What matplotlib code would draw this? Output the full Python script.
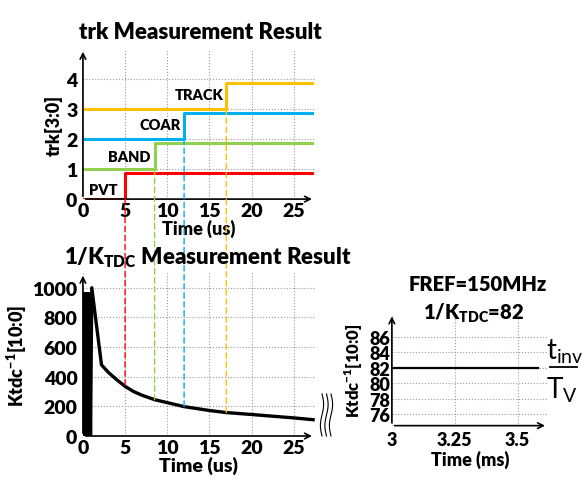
import numpy as np
import matplotlib.pyplot as plt
from matplotlib.patches import ConnectionPatch
from matplotlib.lines import Line2D

W = 'heavy'
plt.rcParams['font.family'] = ['Lato', 'DejaVu Sans']
plt.rcParams['font.weight'] = W
plt.rcParams['mathtext.fontset'] = 'custom'
plt.rcParams['mathtext.rm'] = 'Lato:heavy'
plt.rcParams['mathtext.bf'] = 'Lato:heavy'
plt.rcParams['mathtext.sf'] = 'Lato:normal'

# trk[3:0] step traces
stages = ['PVT', 'BAND', 'COAR', 'TRACK']
stage_colors = ['#ff0000', '#92d050', '#00b0f0', '#ffc000']
switch_t = [5, 8.5, 12, 17]
low_lvl = [0, 1, 2, 3]
high_lvl = [0.88, 1.88, 2.88, 3.88]
t_end = 27.2
label_xy = [(2.4, 0.33), (5.5, 1.43), (9.1, 2.47), (13.8, 3.47)]

# 1/K_TDC measurement (us, code)
ktdc_t = [0.0, 0.04, 0.08, 0.12, 0.16, 0.2, 0.24, 0.28, 0.32, 0.36, 0.4,
          0.44, 0.48, 0.52, 0.56, 0.6, 0.64, 0.68, 0.72, 0.76, 0.8, 0.9,
          1.05, 2.2, 3, 4, 5, 6, 7, 8.5, 10, 12, 15, 17, 20, 25, 27.3]
ktdc_v = [700, 960, 0, 960, 100, 960, 0, 960, 300, 960, 0,
          960, 50, 960, 0, 960, 200, 960, 0, 960, 960, 0,
          1000, 480, 430, 380, 335, 300, 275, 245, 225, 198, 172, 158, 145, 122, 110]

# zoomed steady state (ms, code)
ss_t = [3.0, 3.58]
ss_v = [82, 82]

fig = plt.figure(figsize=(5.84, 4.81), dpi=100)
ax1 = fig.add_axes([0.142, 0.584, 0.397, 0.312])
ax2 = fig.add_axes([0.142, 0.0915, 0.397, 0.339])
ax3 = fig.add_axes([0.671, 0.113, 0.267, 0.233])


def style(ax, size=14):
    for s in ['top', 'right', 'left', 'bottom']:
        ax.spines[s].set_visible(False)
    ax.grid(True, linestyle=':', color='#999999', linewidth=0.8)
    ax.tick_params(length=0, labelsize=size, pad=2)
    ax.tick_params(axis='y', pad=4)
    ax.annotate('', xy=(1.0, 0), xytext=(0, 0), xycoords='axes fraction',
                arrowprops=dict(arrowstyle='->', lw=1.2, color='black'))
    ax.annotate('', xy=(0, 1.0), xytext=(0, 0), xycoords='axes fraction',
                arrowprops=dict(arrowstyle='->', lw=1.2, color='black'))
    for lab in ax.get_xticklabels() + ax.get_yticklabels():
        lab.set_fontweight(W)


# top chart
for i in range(4):
    ax1.plot([0, switch_t[i], switch_t[i], t_end],
             [low_lvl[i], low_lvl[i], high_lvl[i], high_lvl[i]],
             color=stage_colors[i], lw=2.2, zorder=3)
    ax1.text(label_xy[i][0], label_xy[i][1], stages[i], fontsize=10.5,
             fontweight=W, ha='center', va='center')
ax1.set_xlim(0, 27.5)
ax1.set_ylim(0, 5.0)
ax1.set_xticks([0, 5, 10, 15, 20, 25])
ax1.set_yticks([0, 1, 2, 3, 4])
style(ax1)
ax1.set_xlabel('Time (us)', fontsize=13, fontweight=W, labelpad=0)
ax1.set_ylabel('trk[3:0]', fontsize=13, fontweight=W, labelpad=2)
fig.text(0.343, 0.933, 'trk Measurement Result', fontsize=16,
         fontweight=W, ha='center', va='center')

# bottom chart
ax2.plot(ktdc_t, ktdc_v, color='black', lw=2.4, zorder=3)
ax2.set_xlim(0, 27.5)
ax2.set_ylim(0, 1100)
ax2.set_xticks([0, 5, 10, 15, 20, 25])
ax2.set_yticks([0, 200, 400, 600, 800, 1000])
style(ax2)
ax2.set_xlabel('Time (us)', fontsize=14, fontweight=W, labelpad=0)
ax2.set_ylabel('Ktdc$^{\\mathrm{-1}}$[10:0]', fontsize=13,
               fontweight=W, labelpad=2)
fig.text(0.356, 0.465, '1/K$_{\\mathrm{TDC}}$ Measurement Result',
         fontsize=16, fontweight=W, ha='center', va='center')

# dashed connectors from the step to the curve
for i in range(4):
    yb = np.interp(switch_t[i], ktdc_t, ktdc_v)
    con = ConnectionPatch(xyA=(switch_t[i], low_lvl[i]), coordsA=ax1.transData,
                          xyB=(switch_t[i], yb), coordsB=ax2.transData,
                          color=stage_colors[i], lw=1.0, linestyle=(0, (4, 2.5)),
                          zorder=2)
    fig.add_artist(con)

# right chart
ax3.plot(ss_t, ss_v, color='black', lw=1.6, zorder=3)
ax3.set_xlim(3.0, 3.62)
ax3.set_ylim(74.5, 89)
ax3.set_xticks([3, 3.25, 3.5])
ax3.set_xticklabels(['3', '3.25', '3.5'])
ax3.set_yticks([76, 78, 80, 82, 84, 86])
style(ax3, size=13)
ax3.tick_params(axis='y', pad=1)
ax3.tick_params(axis='x', pad=4)
ax3.set_xlabel('Time (ms)', fontsize=13, fontweight=W, labelpad=1)
ax3.set_ylabel('Ktdc$^{\\mathrm{-1}}$[10:0]', fontsize=12,
               fontweight=W, labelpad=3)
fig.text(0.818, 0.408, 'FREF=150MHz', fontsize=14.5, fontweight=W,
         ha='center', va='center')
fig.text(0.81, 0.349, '1/K$_{\\mathrm{TDC}}$=82', fontsize=14.5,
         fontweight=W, ha='center', va='center')

# t_inv / T_V
fig.text(0.967, 0.268, 't$_{\\mathsf{inv}}$', fontsize=20, fontweight='normal',
         ha='center', va='center')
fig.add_artist(Line2D([0.942, 0.988], [0.235, 0.235], color='black', lw=1.3))
fig.text(0.963, 0.19, 'T$_{\\mathsf{V}}$', fontsize=20, fontweight='normal',
         ha='center', va='center')

# axis break marks
yy = np.linspace(395, 437, 40)
for x0 in [322, 326.5, 331]:
    xx = x0 + 1.6 * np.sin((yy - 395) / 42 * 2 * np.pi)
    fig.add_artist(Line2D(xx / 584, 1 - yy / 481, color='black', lw=0.8))

fig.savefig('out.png', dpi=100)
